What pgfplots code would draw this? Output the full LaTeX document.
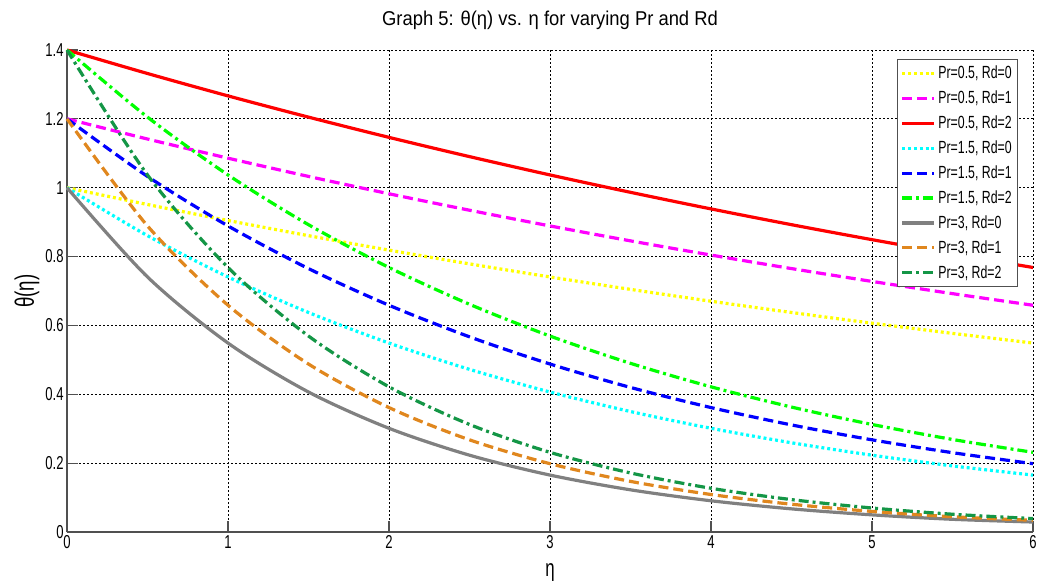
\documentclass[border=0pt]{standalone}
\usepackage{pgfplots}
\pgfplotsset{compat=1.18}
\usepackage{pgfplotstable}
\usepackage{fontspec}
\setmainfont{Liberation Sans}[FakeStretch=0.70]
\newfontfamily\titlefont{Liberation Sans}[FakeStretch=0.92]

\definecolor{cYellow}{RGB}{255,255,0}
\definecolor{cMagenta}{RGB}{255,0,255}
\definecolor{cRed}{RGB}{255,0,0}
\definecolor{cCyan}{RGB}{0,255,255}
\definecolor{cBlue}{RGB}{0,0,255}
\definecolor{cGreen}{RGB}{0,255,0}
\definecolor{cGray}{RGB}{128,128,128}
\definecolor{cOrange}{RGB}{224,135,30}
\definecolor{cDkGreen}{RGB}{20,150,70}
\definecolor{axgray}{RGB}{80,80,80}

% theta(eta) for Pr = 0.5, 1.5, 3 and Rd = 0, 1, 2
\pgfplotstableread{
eta  p05r0  p05r1  p05r2  p15r0  p15r1  p15r2  p3r0   p3r1   p3r2
0.0  1.0000 1.2000 1.4000 1.0000 1.2000 1.4000 1.0000 1.2000 1.4000
0.5  0.9512 1.1414 1.3317 0.8607 1.0328 1.2050 0.7408 0.8890 1.0371
1.0  0.9048 1.0858 1.2667 0.7408 0.8890 1.0371 0.5488 0.6586 0.7683
1.5  0.8607 1.0328 1.2050 0.6376 0.7651 0.8926 0.4066 0.4879 0.5692
2.0  0.8187 0.9824 1.1462 0.5488 0.6586 0.7683 0.3012 0.3614 0.4217
2.5  0.7788 0.9346 1.0903 0.4724 0.5669 0.6614 0.2231 0.2677 0.3124
3.0  0.7408 0.8890 1.0371 0.4066 0.4879 0.5692 0.1653 0.1984 0.2314
3.5  0.7047 0.8456 0.9866 0.3499 0.4199 0.4899 0.1225 0.1470 0.1715
4.0  0.6703 0.8044 0.9384 0.3012 0.3614 0.4217 0.0907 0.1089 0.1270
4.5  0.6376 0.7651 0.8926 0.2592 0.3110 0.3629 0.0672 0.0807 0.0941
5.0  0.6065 0.7278 0.8491 0.2231 0.2677 0.3124 0.0498 0.0598 0.0697
5.5  0.5769 0.6923 0.8077 0.1920 0.2304 0.2688 0.0369 0.0443 0.0516
6.0  0.5488 0.6586 0.7683 0.1653 0.1984 0.2314 0.0290 0.0340 0.0390
}\thetadata

\tikzset{
  mdot/.style={dash pattern=on 2.2pt off 2.2pt},
  mdash/.style={dash pattern=on 7.5pt off 3.75pt},
  mdashdot/.style={dash pattern=on 7.5pt off 3pt on 2.2pt off 3pt},
}

\begin{document}
\begin{tikzpicture}
\begin{axis}[
  name=ax,
  scale only axis,
  width=724.5pt, height=361.5pt,
  xmin=0, xmax=6, ymin=0, ymax=1.4,
  xtick={0,1,...,6},
  ytick={0,0.2,0.4,0.6,0.8,1,1.2,1.4},
  axis x line=bottom, axis y line=left,
  axis line style={-, axgray, line width=1pt},
  tick align=inside,
  major tick length=8pt,
  tick style={axgray, line width=0.8pt},
  grid=major,
  major grid style={black, line width=0.6pt, dash pattern=on 1.5pt off 1.5pt},
  /pgf/number format/assume math mode=true,
  ticklabel style={font=\fontsize{14}{16}\selectfont, text=black},
  xticklabel style={yshift=1pt},
  yticklabel style={xshift=1pt},
  title={Graph 5: θ(η) vs. η for varying Pr and Rd},
  title style={font=\titlefont\fontsize{15}{18}\selectfont, at={(0.5,1)}, anchor=base, yshift=12.5pt},
  xlabel={η},
  xlabel style={font=\fontsize{18}{20}\selectfont, at={(0.5,0)}, anchor=base, yshift=-33pt},
  ylabel={θ(η)},
  ylabel style={font=\fontsize{20}{22}\selectfont, at={(0,0.5)}, anchor=center, yshift=30pt},
  legend style={
    at={(0.859,0.981)}, anchor=north west,
    draw=axgray, line width=0.6pt, fill=white,
    font=\fontsize{13.2}{15}\selectfont,
    row sep=3.6pt, inner xsep=2.5pt, inner ysep=3pt,
  },
  legend cell align=left,
  legend image code/.code={\draw[#1] (0pt,0pt) -- (24pt,0pt);},
  every axis plot/.append style={line width=2.4pt, smooth},
  clip=false,
]
\addplot[cYellow, mdot]      table[x=eta, y=p05r0] \thetadata;
\addplot[cMagenta, mdash]    table[x=eta, y=p05r1] \thetadata;
\addplot[cRed]               table[x=eta, y=p05r2] \thetadata;
\addplot[cCyan, mdot]        table[x=eta, y=p15r0] \thetadata;
\addplot[cBlue, mdash]       table[x=eta, y=p15r1] \thetadata;
\addplot[cGreen, mdashdot]   table[x=eta, y=p15r2] \thetadata;
\addplot[cGray]              table[x=eta, y=p3r0]  \thetadata;
\addplot[cOrange, mdash]     table[x=eta, y=p3r1]  \thetadata;
\addplot[cDkGreen, mdashdot] table[x=eta, y=p3r2]  \thetadata;
\legend{Pr=0.5{,} Rd=0, Pr=0.5{,} Rd=1, Pr=0.5{,} Rd=2,
        Pr=1.5{,} Rd=0, Pr=1.5{,} Rd=1, Pr=1.5{,} Rd=2,
        Pr=3{,} Rd=0, Pr=3{,} Rd=1, Pr=3{,} Rd=2}
\end{axis}
\pgfresetboundingbox
\path[use as bounding box] ([xshift=-50.25pt,yshift=-39pt]ax.south west)
  rectangle ([xshift=3.75pt,yshift=37.5pt]ax.north east);
\end{tikzpicture}
\end{document}
